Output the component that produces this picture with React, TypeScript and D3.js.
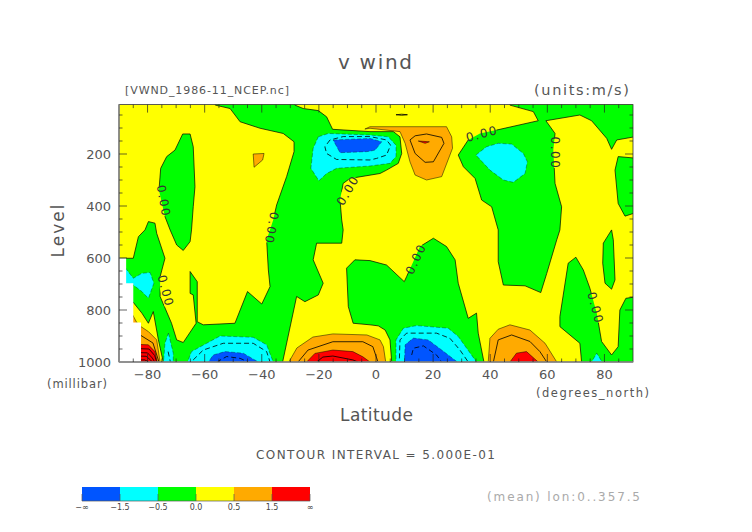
import { line, scaleLinear, range } from 'd3'

type Pt = [number, number] // [latitude, level]

// filled bands as [deg north, millibar]
const greenMain: Pt[] = [[-56.3, 0], [-56.3, 12], [-51.1, 25], [-47.6, 76], [-40.6, 101], [-32.5, 121], [-28.7, 153], [-28.7, 191], [-31.3, 287], [-34.8, 396], [-36, 454], [-38.3, 531], [-37.7, 646], [-37.1, 710], [-40, 777], [-45, 729], [-49.4, 851], [-60.5, 857], [-62.6, 845], [-62.6, 691], [-65.1, 652], [-65.1, 736], [-64, 742], [-63, 851], [-67.5, 925], [-69.8, 915], [-71.6, 851], [-75.6, 748], [-75.6, 672], [-73.9, 601], [-76.8, 505], [-77.4, 466], [-79.7, 460], [-80.9, 492], [-83.2, 518], [-85, 601], [-92, 601], [-92, 768], [-85.2, 768], [-82, 812], [-79.7, 851], [-78, 806], [-76.2, 915], [-74.5, 1000], [-74.5, 1012], [-32.7, 1012], [-32.7, 1000], [-27.8, 748], [-24.9, 768], [-20.2, 742], [-18.5, 697], [-22, 607], [-20.8, 543], [-12, 543], [-11.5, 492], [-12, 454], [-12.6, 377], [-11.5, 313], [-9.1, 294], [1.4, 275], [3.7, 262], [7.8, 236], [9, 198], [8.4, 134], [6.1, 114], [-2.1, 114], [-15.2, 105], [-17.3, 57], [-20.2, 33], [-25.5, 25], [-28.4, 12], [-28.4, 0]]
const greenCentre: Pt[] = [[-7.4, 607], [-2.1, 610], [3.7, 627], [9.9, 691], [10.7, 672], [15.4, 556], [20.1, 524], [24.7, 556], [27.7, 607], [28.8, 697], [32.3, 832], [35.2, 812], [35.8, 889], [37.8, 1000], [37.8, 1012], [5.5, 1012], [5.5, 1000], [4.9, 915], [3.2, 877], [0.8, 861], [-2.1, 857], [-8, 851], [-9.7, 787], [-10.3, 639]]
const greenUpperRight: Pt[] = [[46.9, 0], [46.9, 12], [55.1, 37], [56.8, 72], [42.2, 108], [36.4, 121], [32.3, 146], [28.8, 204], [30.6, 249], [34.7, 294], [37, 377], [40.5, 403], [42.8, 492], [42.8, 614], [44.6, 704], [52.2, 707], [57.7, 733], [59.8, 659], [63.3, 530], [64.4, 492], [65, 403], [62.7, 313], [62.1, 185], [62.7, 121], [59.5, 72], [71.4, 50], [75.5, 72], [80.8, 140], [82.5, 182], [84.3, 146], [92, 131], [92, 0]]
const greenBlob: Pt[] = [[-67.7, 123], [-65.1, 123], [-64, 172], [-63.4, 326], [-64, 403], [-64.6, 492], [-65.1, 537], [-67.5, 571], [-69.8, 550], [-72.1, 492], [-73.9, 441], [-76, 339], [-75.4, 255], [-73.3, 210], [-70.4, 185]]
const greenRightStrip: Pt[] = [[72, 1012], [72, 1000], [71.4, 928], [64.4, 864], [64.4, 825], [67.3, 620], [70, 597], [72.6, 646], [74.9, 716], [77.3, 812], [79, 921], [82.5, 973], [84.8, 941], [85.4, 800], [87.5, 755], [92, 748], [92, 1012]]
const greenIslandA: Pt[] = [[79.6, 543], [82.5, 492], [83.1, 530], [83.7, 684], [82.5, 720], [80.2, 697], [79.4, 620]]
const greenIslandB: Pt[] = [[84.8, 210], [92, 217], [92, 422], [87.2, 439], [84.8, 390], [83.7, 262]]

const cyanTop: Pt[] = [[-20.2, 134], [-16.7, 121], [-2.1, 127], [4.3, 134], [7, 166], [7, 210], [4.9, 236], [-2.1, 246], [-13.8, 255], [-17.3, 275], [-20, 303], [-22.8, 255], [-22, 178]]
const cyanUpperRight: Pt[] = [[35, 204], [38.7, 172], [42.8, 159], [47.5, 162], [51.6, 198], [53, 230], [52.2, 275], [48.1, 309], [44.6, 300], [39.9, 262]]
const cyanLeft: Pt[] = [[-92, 639], [-87.7, 639], [-85, 678], [-82, 659], [-79.1, 656], [-77.8, 697], [-79.7, 755], [-82, 729], [-85, 704], [-92, 697]]
const cyanSliver: Pt[] = [[-72.7, 889], [-71, 966], [-71, 1012], [-74.5, 1012], [-73.9, 928]]
const cyanBottomA: Pt[] = [[-66, 1012], [-66, 1000], [-64.6, 960], [-59.3, 928], [-54.6, 900], [-43, 905], [-38.3, 934], [-36, 1000], [-36, 1012]]
const cyanBottomB: Pt[] = [[7, 1012], [7, 915], [9.6, 870], [14.2, 860], [25.3, 870], [28.8, 902], [35.2, 1000], [35.2, 1012]]
const cyanBottomC: Pt[] = [[75.5, 1012], [75.5, 1000], [77.3, 966], [79.2, 1000], [79.2, 1012]]

const blueTop: Pt[] = [[-15, 146], [-2.1, 140], [2, 153], [-0.3, 185], [-2.1, 189], [-3.3, 191], [-12.6, 195]]
const blueBottomA: Pt[] = [[-58.7, 1012], [-58.7, 1000], [-57, 973], [-52.9, 960], [-46.5, 966], [-41.2, 1000], [-41.2, 1012]]
const blueBottomB: Pt[] = [[9.9, 1012], [10.2, 934], [13.1, 908], [18.3, 915], [23, 954], [28.5, 1000], [28.5, 1012]]

const orangeSmall: Pt[] = [[-43, 200], [-39.2, 198], [-39.7, 223], [-42.7, 251]]
const orangeUpper: Pt[] = [[-3.9, 104], [-2.1, 95], [24.7, 95], [26.5, 134], [26.8, 178], [23, 287], [17.7, 300], [13.7, 281], [11.9, 230], [10.2, 159], [8.4, 114], [-2.1, 101]]
const orangeLeft: Pt[] = [[-92, 819], [-85.2, 819], [-83.8, 848], [-82.3, 864], [-79.7, 883], [-76.8, 915], [-75.6, 1000], [-75.6, 1012], [-92, 1012]]
const orangeCentre: Pt[] = [[-30.5, 1012], [-30.5, 1000], [-30.1, 992], [-27.7, 946], [-22.1, 904], [-15.1, 892], [-3.2, 896], [1.4, 915], [2.6, 941], [3.4, 1000], [3.4, 1012]]
const orangeRight: Pt[] = [[39.3, 1012], [39.3, 1000], [39.9, 909], [42.8, 874], [46.9, 857], [53.9, 877], [59.2, 928], [63.3, 1000], [63.3, 1012]]

const redUpper: Pt[] = [[14.8, 150], [18.7, 153], [17.2, 159]]
const redLeft: Pt[] = [[-92, 928], [-79.7, 934], [-77.4, 960], [-76.6, 1000], [-76.6, 1012], [-92, 1012]]
const redCentre: Pt[] = [[-24.3, 1012], [-24.3, 1000], [-21.4, 967], [-15.1, 954], [-8.1, 960], [-4.6, 980], [-2.1, 1000], [-2.1, 1012]]
const redRight: Pt[] = [[46.9, 1012], [46.9, 1000], [49.2, 966], [52.7, 960], [56.8, 1000], [56.8, 1012]]

// isolines that carry no fill edge
const solidLines: Pt[][] = [
  [[11.9, 146], [13.7, 130], [17.7, 123], [23, 136], [23.8, 159], [20.1, 230], [17.2, 232], [13.7, 198], [11.9, 146]],
  [[7, 49], [9, 47], [11, 49], [9, 51], [7, 49]],
  [[-27.3, 1000], [-23.8, 954], [-15.1, 922], [-4.6, 922], [-1.1, 941], [0.7, 1000]],
  [[-20.8, 1000], [-18.6, 981], [-15.1, 977], [-8.1, 992], [-6.3, 1000]],
  [[41.1, 1000], [42.8, 915], [47.5, 896], [53.9, 921], [57.4, 960], [59.8, 1000]],
  [[-92, 890], [-82.6, 896], [-78.1, 927], [-76, 1000]],
  [[-92, 945], [-79.5, 950], [-77.5, 975], [-76.8, 1000]],
  [[-92, 960], [-80, 965], [-78.3, 985], [-77.5, 1000]],
  [[-92, 975], [-80.5, 978], [-79, 992], [-78.3, 1000]],
  [[-92, 990], [-81, 992], [-79.5, 1000]],
]
const dashedLines: Pt[][] = [
  [[-16.1, 146], [-17.9, 172], [-17.3, 198], [-13.8, 221], [-2.1, 223], [0.2, 217], [3.7, 204], [5.1, 166], [3.7, 146], [-2.1, 133], [-11.5, 133], [-16.1, 146]],
  [[-64, 992], [-60.5, 954], [-53.5, 928], [-43, 928], [-38.3, 960], [-37.1, 1000]],
  [[-55.8, 1000], [-52.3, 979], [-47.6, 986], [-44.7, 1000]],
  [[8.2, 986], [8.4, 915], [10.7, 889], [21.2, 889], [25.9, 909], [29.4, 954], [32.3, 1000]],
  [[12.5, 973], [13.1, 947], [16.6, 938], [21.2, 973], [23, 1000]],
  [[-72.8, 960], [-72, 1000]],
]

const missing: Pt[] = [[-90, 601], [-87.5, 601], [-87.5, 697], [-85, 697], [-85, 848], [-82.3, 848], [-82.3, 1000], [-90, 1000]]

const greens = [greenMain, greenCentre, greenUpperRight, greenBlob, greenRightStrip, greenIslandA, greenIslandB]
const cyans = [cyanTop, cyanUpperRight, cyanLeft, cyanSliver, cyanBottomA, cyanBottomB, cyanBottomC]
const blues = [blueTop, blueBottomA, blueBottomB]
const oranges = [orangeSmall, orangeUpper, orangeLeft, orangeCentre, orangeRight]
const reds = [redUpper, redLeft, redCentre, redRight]

// contour labels, all of them the zero line
const zeroLabels: Pt[] = [[-74.4, 381], [-36.6, 485], [-9.8, 340], [14, 604], [37.1, 123], [62.8, 196], [-73.7, 727], [76.8, 792]]
const zeroAngles = [80, 100, -60, -65, -15, 90, 75, 75]

const latTicks = [-80, -60, -40, -20, 0, 20, 40, 60, 80]
const levelTicks = [200, 400, 600, 800, 1000]
const keyLabels = ['-∞', '-1.5', '-0.5', '0.0', '0.5', '1.5', '∞']
const keyColors = ['#0055ff', '#00ffff', '#00ff00', '#ffff00', '#ffaa00', '#ff0000']

const FONT = '"DejaVu Sans", sans-serif'
const INK = '#555'

export default function App() {
  const x = scaleLinear().domain([-90, 90]).range([119, 633])
  const y = scaleLinear().domain([10, 1000]).range([104.6, 362])
  const keyX = scaleLinear().domain([0, 6]).range([82, 310])
  const ring = line<Pt>().x((p) => x(p[0])).y((p) => y(p[1]))
  const closed = (pts: Pt[]) => `${ring(pts)}Z`

  const region = (pts: Pt[], i: number, fill: string, dash?: string, op = 1) => (
    <path key={`${fill}${i}`} d={closed(pts)} fill={fill} stroke="#000" strokeOpacity={op} strokeWidth={0.7} strokeDasharray={dash} />
  )

  return (
    <svg width={752} height={532} style={{ position: 'absolute', left: 0, top: 0, background: '#fff' }} fontFamily={FONT}>
      <defs>
        <clipPath id="plot">
          <rect x={x(-90)} y={y(10)} width={x(90) - x(-90)} height={y(1000) - y(10)} />
        </clipPath>
        <mask id="gaps" maskUnits="userSpaceOnUse" x={0} y={0} width={752} height={532}>
          <rect width={752} height={532} fill="#fff" />
          {zeroLabels.map((p, i) => (
            <rect key={i} x={-15} y={-5} width={30} height={10} fill="#000" transform={`translate(${x(p[0])},${y(p[1])}) rotate(${zeroAngles[i]})`} />
          ))}
        </mask>
      </defs>

      <g clipPath="url(#plot)">
        <rect x={x(-90)} y={y(10)} width={x(90) - x(-90)} height={y(1000) - y(10)} fill="#ffff00" />
        {greens.map((g, i) => <path key={i} d={closed(g)} fill="#00ff00" />)}
        {cyans.map((g, i) => <path key={i} d={closed(g)} fill="#00ffff" />)}
        {blues.map((g, i) => <path key={i} d={closed(g)} fill="#0055ff" />)}
        {oranges.map((g, i) => <path key={i} d={closed(g)} fill="#ffaa00" />)}
        {reds.map((g, i) => <path key={i} d={closed(g)} fill="#ff0000" />)}
        <g mask="url(#gaps)">
          {greens.map((g, i) => region(g, i, 'none'))}
          {oranges.map((g, i) => region(g, i + 20, 'none', undefined, 0.7))}
          {reds.map((g, i) => region(g, i + 40, 'none', undefined, 0.7))}
          {cyans.map((g, i) => region(g, i + 60, 'none', '4 2', 0.45))}
          {blues.map((g, i) => region(g, i + 80, 'none', '4 2', 0.45))}
          {solidLines.map((l, i) => <path key={i} d={ring(l) ?? ''} fill="none" stroke="#000" strokeWidth={0.8} />)}
          {dashedLines.map((l, i) => <path key={i} d={ring(l) ?? ''} fill="none" stroke="#000" strokeWidth={0.8} strokeDasharray="5 3" />)}
        </g>
        <path d={closed(missing)} fill="#fff" />
      </g>

      {zeroLabels.map((p, i) => (
        <text key={i} textAnchor="middle" dominantBaseline="central" fontSize={12} letterSpacing={1.5} fill="#333" transform={`translate(${x(p[0])},${y(p[1])}) rotate(${zeroAngles[i]})`}>0.00</text>
      ))}

      {/* frame and ticks, inward on all four sides */}
      <rect x={x(-90)} y={y(10)} width={x(90) - x(-90)} height={y(1000) - y(10)} fill="none" stroke="#333" strokeWidth={0.8} />
      <line x1={x(-90)} x2={x(-90)} y1={y(10)} y2={y(1000)} stroke="#888" strokeWidth={1.6} />
      <line x1={x(-90)} x2={x(90)} y1={y(1000)} y2={y(1000)} stroke="#888" strokeWidth={1.6} />
      {range(-85, 90, 5).map((d) => {
        const len = d % 20 === 0 ? 8 : 3.5
        return (
          <g key={d} stroke="#222" strokeWidth={0.7}>
            <line x1={x(d)} x2={x(d)} y1={y(10)} y2={y(10) + len} />
            <line x1={x(d)} x2={x(d)} y1={y(1000)} y2={y(1000) - len} />
          </g>
        )
      })}
      {range(50, 1000, 50).map((l) => {
        const len = l % 200 === 0 ? 8 : 3.5
        return (
          <g key={l} stroke="#222" strokeWidth={0.7}>
            <line x1={x(-90)} x2={x(-90) + len} y1={y(l)} y2={y(l)} />
            <line x1={x(90)} x2={x(90) - len} y1={y(l)} y2={y(l)} />
          </g>
        )
      })}

      {latTicks.map((d) => (
        <text key={d} x={x(d)} y={379} textAnchor="middle" fontSize={13} fill={INK}>{d < 0 ? `\u2212${-d}` : d}</text>
      ))}
      {levelTicks.map((l) => (
        <text key={l} x={111} y={y(l) + 5} textAnchor="end" fontSize={13} fill={INK}>{l}</text>
      ))}

      <text x={375} y={69} textAnchor="middle" fontSize={20} fill={INK} textLength={74}>v wind</text>
      <text x={125} y={94} fontSize={11} fill={INK} textLength={164}>[VWND_1986-11_NCEP.nc]</text>
      <text x={534} y={95} fontSize={14.5} fill={INK} textLength={95}>(units:m/s)</text>
      <text transform="translate(64,231) rotate(-90)" textAnchor="middle" fontSize={17} fill={INK} textLength={53}>Level</text>
      <text x={47} y={388} fontSize={11.5} fill={INK} textLength={60}>(millibar)</text>
      <text x={340} y={421} fontSize={17} fill={INK} textLength={73}>Latitude</text>
      <text x={536} y={397} fontSize={11.5} fill={INK} textLength={113}>(degrees_north)</text>
      <text x={256} y={459} fontSize={12} fill={INK} textLength={239}>CONTOUR INTERVAL = 5.000E-01</text>
      <text x={487} y={501} fontSize={12} fill="#aaa" textLength={153}>(mean) lon:0..357.5</text>

      {keyColors.map((c, i) => (
        <rect key={c} x={keyX(i)} y={487} width={keyX(i + 1) - keyX(i)} height={14} fill={c} />
      ))}
      {keyLabels.map((t, i) => (
        <g key={t}>
          <line x1={keyX(i)} x2={keyX(i)} y1={494} y2={501} stroke="#555" strokeWidth={0.7} />
          <text x={keyX(i)} y={510} textAnchor="middle" fontSize={8} fill="#444">{t.replace('-', '\u2212')}</text>
        </g>
      ))}
      <line x1={keyX(0)} x2={keyX(6)} y1={501} y2={501} stroke="#555" strokeWidth={0.7} />
    </svg>
  )
}
